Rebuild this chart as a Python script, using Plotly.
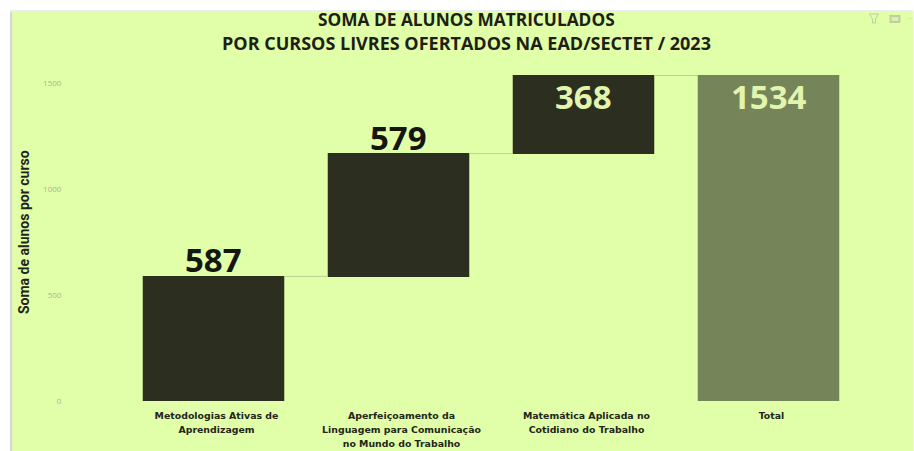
import numpy as np
import plotly.graph_objects as go

categories = [
    ["Metodologias Ativas de", "Aprendizagem"],
    ["Aperfeiçoamento da", "Linguagem para Comunicação", "no Mundo do Trabalho"],
    ["Matemática Aplicada no", "Cotidiano do Trabalho"],
    ["Total"],
]
increments = [587, 579, 368]
total_label = 1534
y_ticks = [0, 500, 1000, 1500]
title_lines = ["SOMA DE ALUNOS MATRICULADOS", "POR CURSOS LIVRES OFERTADOS NA EAD/SECTET / 2023"]
y_title = "Soma de alunos por curso"

BG = "#E0FFA8"
DARK = "#2C2E20"
TOTAL = "#768459"
LIGHT_TXT = "#E2F5AE"
ICON = "#BFCFA3"
W, H = 914, 451
L, R, T, B = 121, 52.5, 70, 50

cat_keys = [" ".join(c) for c in categories]
wrapped = ["<br>".join(f'<span style="font-size:9.4px">{s}</span>' for s in c) for c in categories]
values = increments + [total_label]
tops = list(np.cumsum(increments)) + [total_label]

fig = go.Figure(go.Waterfall(
    x=cat_keys,
    y=values,
    measure=["relative"] * len(increments) + ["total"],
    increasing=dict(marker=dict(color=DARK)),
    totals=dict(marker=dict(color=TOTAL)),
    connector=dict(line=dict(color="#BBD494", width=1)),
    showlegend=False,
    cliponaxis=False,
))

px = lambda x: (x - L) / (W - L - R)
py = lambda y: 1 - (y - T) / (H - T - B)

def rect(x0, x1, y0, y1, color):
    return dict(type="rect", xref="paper", yref="paper", layer="below",
                x0=px(x0), x1=px(x1), y0=py(y1), y1=py(y0), fillcolor=color, line_width=0)

def path(points, color, closed=True):
    d = "M " + " L ".join(f"{px(a)},{py(b)}" for a, b in points) + (" Z" if closed else "")
    return dict(type="path", xref="paper", yref="paper", layer="below", path=d,
                line=dict(color=color, width=1), fillcolor="rgba(0,0,0,0)")

shapes = [
    rect(12, W, 12, H, BG),
    rect(10, 12, 10, H, "#D4D4D4"),
    rect(10, W, 10, 12, "#EDEDED"),
    path([(870, 14), (879, 14), (876, 19), (876, 23), (873, 23), (873, 19)], ICON),
    rect(890, 901, 15, 23, ICON),
    rect(892, 899, 17, 21, "#D8F0A8"),
    rect(909, 910, 18, 19, ICON),
    rect(912, 913, 18, 19, ICON),
]

annotations = []
for txt, yc, size in zip(title_lines, [20, 43], [17.3, 18]):
    annotations.append(dict(text=f"<b>{txt}</b>", xref="paper", yref="paper", x=px(467), y=py(yc),
                            xanchor="center", yanchor="middle", showarrow=False,
                            font=dict(family="Open Sans", size=size, color="#1E2016")))
annotations.append(dict(text=f"<b>{y_title}</b>", xref="paper", yref="paper", x=px(24), y=py(232),
                        xanchor="center", yanchor="middle", textangle=-90, showarrow=False,
                        font=dict(family="Roboto", size=14, color="#23251A")))
for i, (k, top, v) in enumerate(zip(cat_keys, tops, values)):
    inside = i >= 2
    annotations.append(dict(text=f"<b>{v}</b>", x=k, y=top, xref="x", yref="y",
                            xanchor="center", yanchor="top" if inside else "bottom",
                            yshift=4 if inside else -8, showarrow=False,
                            font=dict(family="Open Sans", size=33, color=LIGHT_TXT if inside else "#15160F")))

fig.update_layout(
    width=W, height=H, autosize=False,
    margin=dict(l=L, r=R, t=T, b=B, pad=0, autoexpand=False),
    paper_bgcolor="white", plot_bgcolor="rgba(0,0,0,0)",
    waterfallgap=0.235,
    shapes=shapes, annotations=annotations,
    xaxis=dict(type="category", tickmode="array", tickvals=cat_keys, ticktext=wrapped, automargin=False,
               tickangle=0, showgrid=False, zeroline=False, showline=False,
               ticks="outside", ticklen=5, tickcolor="rgba(0,0,0,0)", ticklabelshift=3,
               tickfont=dict(family="DejaVu Sans", size=10.4, color="#23251A", weight="bold")),
    yaxis=dict(range=[0, 1560], tickvals=y_ticks, automargin=False,
               showgrid=False, zeroline=False, showline=False,
               ticks="outside", ticklen=57, tickcolor="rgba(0,0,0,0)",
               tickfont=dict(family="Open Sans", size=8, color="#A9B690")),
)

fig.write_html("out.html", config=dict(displayModeBar=False),
               post_script="document.body.style.margin='0';document.body.style.overflow='hidden';")
